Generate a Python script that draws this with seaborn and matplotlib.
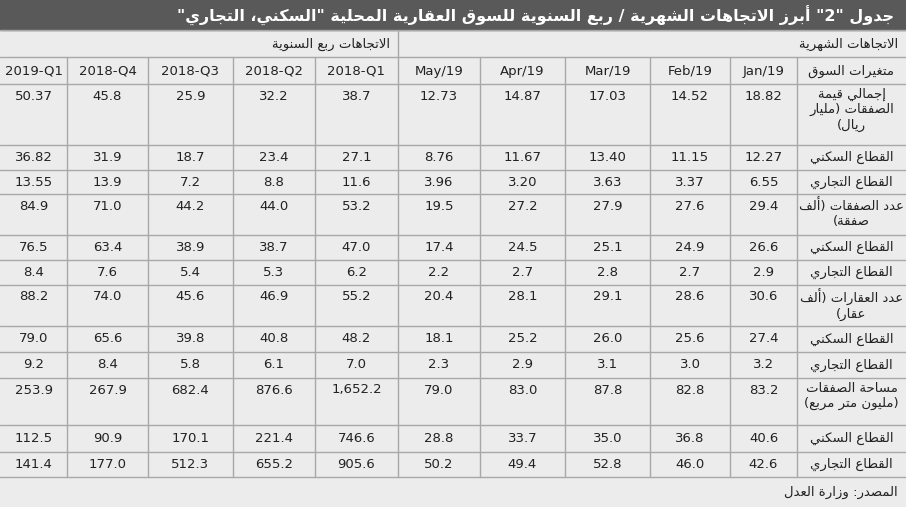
import re
import matplotlib
matplotlib.use('Agg')
import matplotlib.pyplot as plt
from matplotlib.patches import Rectangle
import seaborn as sns

# ---- data ----
title = 'جدول "2" أبرز الاتجاهات الشهرية / ربع السنوية للسوق العقارية المحلية "السكني، التجاري"'
group_monthly = 'الاتجاهات الشهرية'
group_quarterly = 'الاتجاهات ربع السنوية'
label_header = 'متغيرات السوق'
source = 'المصدر: وزارة العدل'
# columns left -> right as in the picture
columns = ['2019-Q1', '2018-Q4', '2018-Q3', '2018-Q2', '2018-Q1',
           'May/19', 'Apr/19', 'Mar/19', 'Feb/19', 'Jan/19']
row_labels = [
    'إجمالي قيمة\nالصفقات (مليار\nريال)',
    'القطاع السكني', 'القطاع التجاري',
    'عدد الصفقات (ألف\nصفقة)',
    'القطاع السكني', 'القطاع التجاري',
    'عدد العقارات (ألف\nعقار)',
    'القطاع السكني', 'القطاع التجاري',
    'مساحة الصفقات\n(مليون متر مربع)',
    'القطاع السكني', 'القطاع التجاري',
]
values = [
    ['50.37', '45.8', '25.9', '32.2', '38.7', '12.73', '14.87', '17.03', '14.52', '18.82'],
    ['36.82', '31.9', '18.7', '23.4', '27.1', '8.76', '11.67', '13.40', '11.15', '12.27'],
    ['13.55', '13.9', '7.2', '8.8', '11.6', '3.96', '3.20', '3.63', '3.37', '6.55'],
    ['84.9', '71.0', '44.2', '44.0', '53.2', '19.5', '27.2', '27.9', '27.6', '29.4'],
    ['76.5', '63.4', '38.9', '38.7', '47.0', '17.4', '24.5', '25.1', '24.9', '26.6'],
    ['8.4', '7.6', '5.4', '5.3', '6.2', '2.2', '2.7', '2.8', '2.7', '2.9'],
    ['88.2', '74.0', '45.6', '46.9', '55.2', '20.4', '28.1', '29.1', '28.6', '30.6'],
    ['79.0', '65.6', '39.8', '40.8', '48.2', '18.1', '25.2', '26.0', '25.6', '27.4'],
    ['9.2', '8.4', '5.8', '6.1', '7.0', '2.3', '2.9', '3.1', '3.0', '3.2'],
    ['253.9', '267.9', '682.4', '876.6', '1,652.2', '79.0', '83.0', '87.8', '82.8', '83.2'],
    ['112.5', '90.9', '170.1', '221.4', '746.6', '28.8', '33.7', '35.0', '36.8', '40.6'],
    ['141.4', '177.0', '512.3', '655.2', '905.6', '50.2', '49.4', '52.8', '46.0', '42.6'],
]

# ---- layout (pixels) ----
col_edges = [0, 67, 148, 233, 315, 398, 480, 565, 650, 730, 797, 906]
row_edges = [84, 145, 170, 194, 235, 260, 285, 326, 352, 378, 425, 452, 477]

# ---- minimal arabic shaping ----
_forms = {}
_seq = [('ء', 1), ('آ', 2), ('أ', 2), ('ؤ', 2), ('إ', 2), ('ئ', 4), ('ا', 2), ('ب', 4),
        ('ة', 2), ('ت', 4), ('ث', 4), ('ج', 4), ('ح', 4), ('خ', 4), ('د', 2), ('ذ', 2),
        ('ر', 2), ('ز', 2), ('س', 4), ('ش', 4), ('ص', 4), ('ض', 4), ('ط', 4), ('ظ', 4),
        ('ع', 4), ('غ', 4), ('ف', 4), ('ق', 4), ('ك', 4), ('ل', 4), ('م', 4), ('ن', 4),
        ('ه', 4), ('و', 2), ('ى', 2), ('ي', 4)]
_c = 0xFE80
for ch, n in _seq:
    _forms[ch] = [chr(_c + i) for i in range(n)]
    _c += n
_lamalef = {'آ': 0xFEF5, 'أ': 0xFEF7, 'إ': 0xFEF9, 'ا': 0xFEFB}


def _dual(ch):
    return ch in _forms and len(_forms[ch]) == 4


def shape(word):
    chars = list(word)
    out = []
    i = 0
    while i < len(chars):
        ch = chars[i]
        if ch not in _forms:
            out.append(ch)
            i += 1
            continue
        prev = chars[i - 1] if i > 0 else ''
        joins_prev = _dual(prev)
        if ch == 'ل' and i + 1 < len(chars) and chars[i + 1] in _lamalef:
            code = _lamalef[chars[i + 1]] + (1 if joins_prev else 0)
            out.append(chr(code))
            i += 2
            continue
        nxt = chars[i + 1] if i + 1 < len(chars) else ''
        joins_next = _dual(ch) and nxt in _forms
        f = _forms[ch]
        if len(f) == 1:
            out.append(f[0])
        elif joins_prev and joins_next:
            out.append(f[3])
        elif joins_next:
            out.append(f[2])
        elif joins_prev:
            out.append(f[1])
        else:
            out.append(f[0])
        i += 1
    return ''.join(out)


_mirror = {'(': ')', ')': '('}


def ar(text):
    lines = []
    for line in text.split('\n'):
        s = shape(line)
        tokens = re.findall(r'[0-9A-Za-z.,/\-]+|[^0-9A-Za-z.,/\-]+', s)
        res = []
        for t in reversed(tokens):
            if re.match(r'[0-9A-Za-z]', t):
                res.append(t)
            else:
                res.append(''.join(_mirror.get(c, c) for c in reversed(t)))
        lines.append(''.join(res))
    return '\n'.join(lines)


# ---- draw ----
sns.set_theme(style='white')
plt.rcParams['font.family'] = ['DejaVu Sans']

W, H = 906, 507
fig = plt.figure(figsize=(W / 100, H / 100), dpi=100)
ax = fig.add_axes([0, 0, 1, 1])
ax.set_xlim(0, W)
ax.set_ylim(H, 0)
ax.axis('off')

bg = '#ececec'
line = '#a8a8a8'
fs = 9.5
ax.add_patch(Rectangle((0, 0), W, H, color=bg, zorder=0))
ax.add_patch(Rectangle((0, 0), W, 30, color='#595959', zorder=1))
ax.text(W - 12, 16, ar(title), color='white', fontsize=11.5, fontweight='bold',
        ha='right', va='center')

# group headers
ax.plot([0, W], [30, 30], color=line, lw=1)
ax.plot([col_edges[5], col_edges[5]], [30, 57], color=line, lw=1)
ax.text(W - 8, 44, ar(group_monthly), fontsize=fs, ha='right', va='center', color='#222')
ax.text(col_edges[5] - 8, 44, ar(group_quarterly), fontsize=fs, ha='right', va='center', color='#222')

# column header row
ax.plot([0, W], [57, 57], color=line, lw=1)
ax.plot([0, W], [84, 84], color=line, lw=1)
for j, name in enumerate(columns):
    cx = (col_edges[j] + col_edges[j + 1]) / 2
    ax.text(cx, 71, name, fontsize=fs, ha='center', va='center', color='#222')
ax.text((col_edges[-2] + col_edges[-1]) / 2, 71, ar(label_header), fontsize=fs,
        ha='center', va='center', color='#222')

# body
for i, (lab, vals) in enumerate(zip(row_labels, values)):
    y0, y1 = row_edges[i], row_edges[i + 1]
    ax.plot([0, W], [y1, y1], color=line, lw=1)
    multi = '\n' in lab
    ty = y0 + 12 if multi else (y0 + y1) / 2
    for j, v in enumerate(vals):
        cx = (col_edges[j] + col_edges[j + 1]) / 2
        ax.text(cx, ty, v, fontsize=fs, ha='center', va='center', color='#222')
    cx = (col_edges[-2] + col_edges[-1]) / 2
    if multi:
        ax.text(cx, y0 + 4, ar(lab), fontsize=fs, ha='center', va='top', color='#222',
                linespacing=1.2)
    else:
        ax.text(cx, ty, ar(lab), fontsize=fs, ha='center', va='center', color='#222')

for x in col_edges[1:-1]:
    ax.plot([x, x], [57, row_edges[-1]], color=line, lw=1)

ax.text(W - 8, 492, ar(source), fontsize=fs, ha='right', va='center', color='#222')

fig.savefig('out.png', dpi=100)
